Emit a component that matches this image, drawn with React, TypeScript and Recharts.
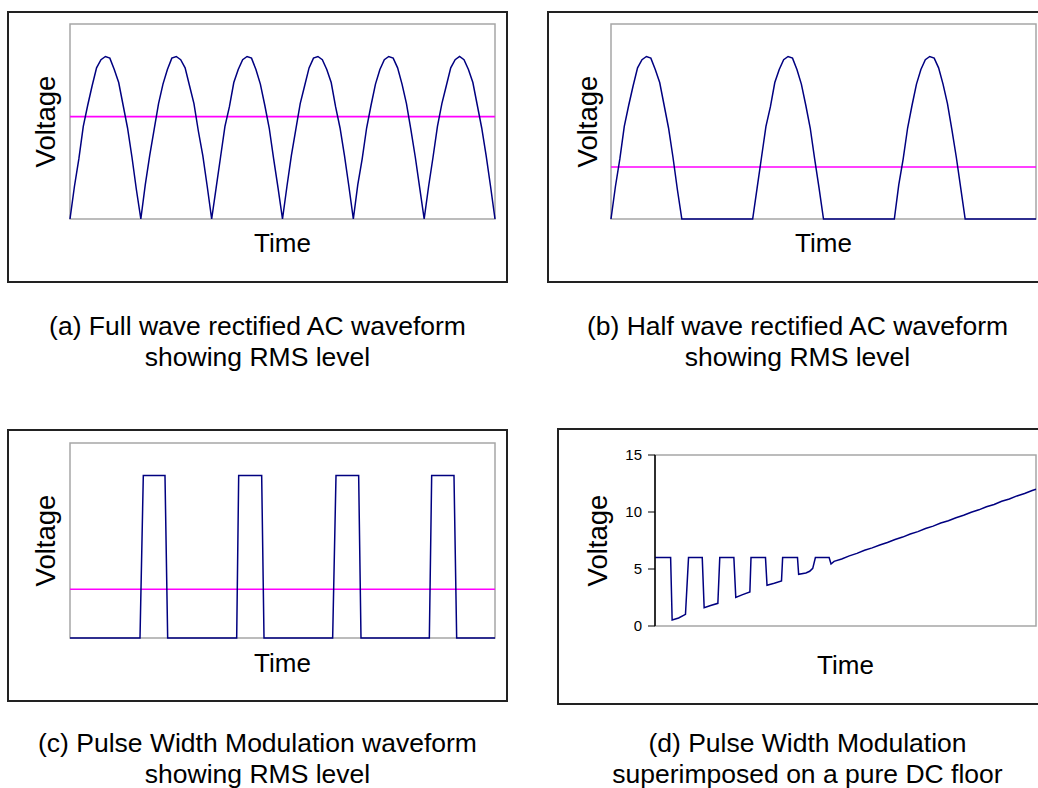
import { LineChart, Line, XAxis, YAxis, ReferenceLine, ReferenceArea } from 'recharts';

// (a) full wave rectified, 16 samples per half cycle
const fullWave = [
  0, 0.2, 0.37, 0.57, 0.7, 0.82, 0.93, 0.98, 1.0, 0.99, 0.92, 0.84, 0.7, 0.56, 0.38, 0.18,
  0, 0.21, 0.39, 0.55, 0.71, 0.83, 0.92, 0.99, 1.0, 0.98, 0.93, 0.82, 0.71, 0.54, 0.39, 0.2,
  0, 0.19, 0.38, 0.57, 0.69, 0.84, 0.92, 0.98, 1.0, 0.99, 0.92, 0.83, 0.7, 0.56, 0.37, 0.19,
  0, 0.2, 0.39, 0.55, 0.71, 0.82, 0.93, 0.99, 1.0, 0.98, 0.92, 0.84, 0.69, 0.56, 0.39, 0.2,
  0, 0.21, 0.37, 0.56, 0.7, 0.83, 0.92, 0.98, 1.0, 0.99, 0.93, 0.83, 0.71, 0.55, 0.38, 0.19,
  0, 0.2, 0.38, 0.57, 0.71, 0.82, 0.93, 0.98, 1.0, 0.98, 0.92, 0.84, 0.7, 0.56, 0.39, 0.2,
  0,
];
const rmsFull = 0.63;

// (b) half wave rectified
const halfWave = [
  0, 0.2, 0.37, 0.57, 0.7, 0.82, 0.93, 0.98, 1.0, 0.99, 0.92, 0.84, 0.7, 0.56, 0.38, 0.18,
  0, 0, 0, 0, 0, 0, 0, 0, 0, 0, 0, 0, 0, 0, 0, 0,
  0, 0.19, 0.38, 0.57, 0.69, 0.84, 0.92, 0.98, 1.0, 0.99, 0.92, 0.83, 0.7, 0.56, 0.37, 0.19,
  0, 0, 0, 0, 0, 0, 0, 0, 0, 0, 0, 0, 0, 0, 0, 0,
  0, 0.21, 0.37, 0.56, 0.7, 0.83, 0.92, 0.98, 1.0, 0.99, 0.93, 0.83, 0.71, 0.55, 0.38, 0.19,
  0, 0, 0, 0, 0, 0, 0, 0, 0, 0, 0, 0, 0, 0, 0, 0,
  0,
];
const rmsHalf = 0.32;

// (c) PWM
const pwmTime = [0, 16.47, 17.25, 22.35, 22.98, 39.22, 39.69, 45.1, 45.65, 61.8, 62.59, 67.92, 68.47, 84.55, 85.1, 90.35, 90.98, 100];
const pwmVolt = [0, 0, 1, 1, 0, 0, 1, 1, 0, 0, 1, 1, 0, 0, 1, 1, 0, 0];
const rmsPwm = 0.3;

// (d) PWM on a DC floor
const dcTime = [
  0, 4.1, 4.5, 6.2, 8.0, 8.8, 12.4, 12.9, 14.6, 16.5, 17.0, 20.7, 21.2, 23.0, 24.9, 25.2,
  29.0, 29.4, 31.3, 33.2, 33.5, 37.4, 37.7, 39.6, 40.6, 41.4, 42.1, 45.7, 46.2, 47,
  49, 51, 53, 55, 57, 59, 61, 63, 65, 67, 69, 71, 73, 75, 77, 79, 81, 83, 85, 87, 89, 91, 93, 95, 97, 99, 100,
];
const dcVolt = [
  6, 6, 0.53, 0.7, 1.02, 6, 6, 1.61, 1.8, 1.99, 6, 6, 2.51, 2.75, 2.98, 6,
  6, 3.57, 3.75, 3.95, 6, 6, 4.53, 4.65, 4.8, 5.06, 6, 6, 5.44, 5.67,
  5.88, 6.15, 6.37, 6.64, 6.85, 7.11, 7.33, 7.59, 7.8, 8.07, 8.28, 8.55, 8.76, 9.03, 9.23, 9.5, 9.71, 9.98, 10.19, 10.46, 10.66, 10.94, 11.14, 11.41, 11.62, 11.89, 12.0,
];
const dcTicks = [0, 5, 10, 15];

const fullData = fullWave.map((v, i) => ({ t: i, v }));
const halfData = halfWave.map((v, i) => ({ t: i, v }));
const pwmData = pwmTime.map((t, i) => ({ t, v: pwmVolt[i] }));
const dcData = dcTime.map((t, i) => ({ t, v: dcVolt[i] }));

const WAVE = '#000080';
const RMS = '#ff00ff';
const FRAME = '#a6a6a6';
const FONT = '"Liberation Sans", Arial, Helvetica, sans-serif';
const XLABEL = { fontSize: 26, fill: '#000' };
const YLABEL = { fontSize: 27.5, fill: '#000' };

function Box({ x, y, w, h, children }: any) {
  return (
    <div style={{ position: 'absolute', left: x, top: y, width: w, height: h }}>
      {children}
      <div style={{ position: 'absolute', left: 0, top: 0, width: w, height: h, border: '2px solid #222', boxSizing: 'border-box', pointerEvents: 'none' }} />
    </div>
  );
}

function Caption({ x, y, lines }: { x: number; y: number; lines: string[] }) {
  return (
    <div style={{ position: 'absolute', left: x, top: y, width: 501, textAlign: 'center', fontSize: 26.5, lineHeight: '31px', color: '#000' }}>
      {lines.map((l) => <div key={l}>{l}</div>)}
    </div>
  );
}

function RmsChart({ data, xMax, rms, w, h, margin, yWidth, xHeight }: any) {
  return (
    <LineChart width={w} height={h} data={data} margin={margin}>
      <XAxis dataKey="t" type="number" domain={[0, xMax]} tick={false} axisLine={false} tickLine={false}
        height={xHeight} label={{ value: 'Time', position: 'center', ...XLABEL }} />
      <YAxis type="number" domain={[0, 1.2]} tick={false} axisLine={false} tickLine={false}
        width={yWidth} label={{ value: 'Voltage', angle: -90, position: 'center', ...YLABEL }} />
      <ReferenceArea x1={0} x2={xMax} y1={0} y2={1.2} fill="none" stroke={FRAME} strokeWidth={1.5} />
      <ReferenceLine y={rms} stroke={RMS} strokeWidth={1.6} />
      <Line type="linear" dataKey="v" stroke={WAVE} strokeWidth={1.5} dot={false} isAnimationActive={false} />
    </LineChart>
  );
}

export default function App() {
  return (
    <div style={{ position: 'absolute', left: 0, top: 0, width: 1038, height: 788, overflow: 'hidden', background: '#fff', fontFamily: FONT }}>
      <Box x={7} y={11} w={501} h={272}>
        <RmsChart data={fullData} xMax={96} rms={rmsFull} w={501} h={272} yWidth={50} xHeight={48}
          margin={{ top: 13, right: 13, bottom: 16, left: 13 }} />
      </Box>
      <Box x={547} y={11} w={501} h={272}>
        <RmsChart data={halfData} xMax={96} rms={rmsHalf} w={501} h={272} yWidth={47} xHeight={48}
          margin={{ top: 13, right: 12, bottom: 16, left: 17 }} />
      </Box>
      <Box x={7} y={429} w={501} h={273}>
        <RmsChart data={pwmData} xMax={100} rms={rmsPwm} w={501} h={273} yWidth={50} xHeight={50}
          margin={{ top: 14, right: 13, bottom: 14, left: 13 }} />
      </Box>
      <Box x={557} y={428} w={501} h={277}>
        <LineChart width={501} height={277} data={dcData} margin={{ top: 27, right: 22, bottom: 1, left: 18 }}>
          <XAxis dataKey="t" type="number" domain={[0, 100]} tick={false} axisLine={false} tickLine={false}
            height={78} label={{ value: 'Time', position: 'center', ...XLABEL }} />
          <YAxis type="number" domain={[0, 15]} ticks={dcTicks} interval={0} width={80}
            tick={{ fontSize: 15, fill: '#000' }} tickSize={7} tickMargin={6}
            axisLine={{ stroke: '#000' }} tickLine={{ stroke: '#000' }}
            label={{ value: 'Voltage', angle: -90, position: 'insideLeft', offset: 22, style: { textAnchor: 'middle' }, ...YLABEL }} />
          <ReferenceArea x1={0} x2={100} y1={0} y2={15} fill="none" stroke={FRAME} strokeWidth={1.5} />
          <ReferenceLine x={0} stroke="#000" strokeWidth={1} />
          <Line type="linear" dataKey="v" stroke={WAVE} strokeWidth={1.5} dot={false} isAnimationActive={false} />
        </LineChart>
      </Box>
      <Caption x={7} y={311} lines={['(a) Full wave rectified AC waveform', 'showing RMS level']} />
      <Caption x={547} y={311} lines={['(b) Half wave rectified AC waveform', 'showing RMS level']} />
      <Caption x={7} y={728} lines={['(c) Pulse Width Modulation waveform', 'showing RMS level']} />
      <Caption x={557} y={728} lines={['(d) Pulse Width Modulation', 'superimposed on a pure DC floor']} />
    </div>
  );
}
